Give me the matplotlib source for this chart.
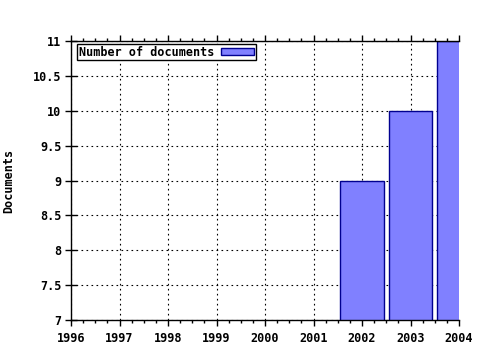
import matplotlib
matplotlib.use("Agg")
import matplotlib.pyplot as plt
from matplotlib.ticker import MultipleLocator

years = [2002, 2003, 2004]
documents = [9, 10, 11]
series_label = "Number of documents"
y_label = "Documents"

plt.rcParams['font.family'] = ['DejaVu Sans Mono']
plt.rcParams['font.weight'] = 'bold'

fig = plt.figure(figsize=(4.8, 3.5), dpi=100)
ax = fig.add_axes([71/480, 30/350, (459-71)/480, (320-41)/350])

ax.bar(years, documents, width=0.9, bottom=0, color='#8080ff', edgecolor='#000090',
       linewidth=1.0, label=series_label, zorder=3)

ax.set_xlim(1996, 2004)
ax.set_ylim(7, 11)
ax.xaxis.set_major_locator(MultipleLocator(1))
ax.xaxis.set_minor_locator(MultipleLocator(0.25))
ax.set_yticks([7, 7.5, 8, 8.5, 9, 9.5, 10, 10.5, 11])
ax.set_yticklabels(['7', '7.5', '8', '8.5', '9', '9.5', '10', '10.5', '11'])

ax.grid(True, which='major', color='black', linestyle=(0, (1.5, 3)), linewidth=0.8, zorder=1)
ax.set_axisbelow(True)

ax.spines['right'].set_visible(False)
for s in ['left', 'bottom', 'top']:
    ax.spines[s].set_linewidth(1.0)
    ax.spines[s].set_zorder(4)

ax.tick_params(axis='x', which='major', direction='out', top=True, bottom=True,
               length=4, width=1, labelsize=8.5, pad=5)
ax.tick_params(axis='x', which='minor', direction='out', top=True, bottom=True,
               length=2.5, width=1)
ax.tick_params(axis='y', which='major', direction='inout', length=8, width=1,
               labelsize=8.5, right=False, pad=3)
for lbl in ax.get_xticklabels() + ax.get_yticklabels():
    lbl.set_fontweight('bold')

ax.set_ylabel(y_label, fontsize=8.5, fontweight='bold')
ax.yaxis.set_label_coords((15 - 71) / 388, 0.5)

leg = ax.legend(loc='upper left', bbox_to_anchor=(0.015, 0.99), markerfirst=False,
                fancybox=False, framealpha=1, edgecolor='black', fontsize=8.5,
                handlelength=2.8, handleheight=0.6, borderpad=0.15, handletextpad=0.6,
                borderaxespad=0.0)
leg.get_frame().set_linewidth(1.0)
for t in leg.get_texts():
    t.set_fontweight('bold')

fig.savefig("out.png", dpi=100)
